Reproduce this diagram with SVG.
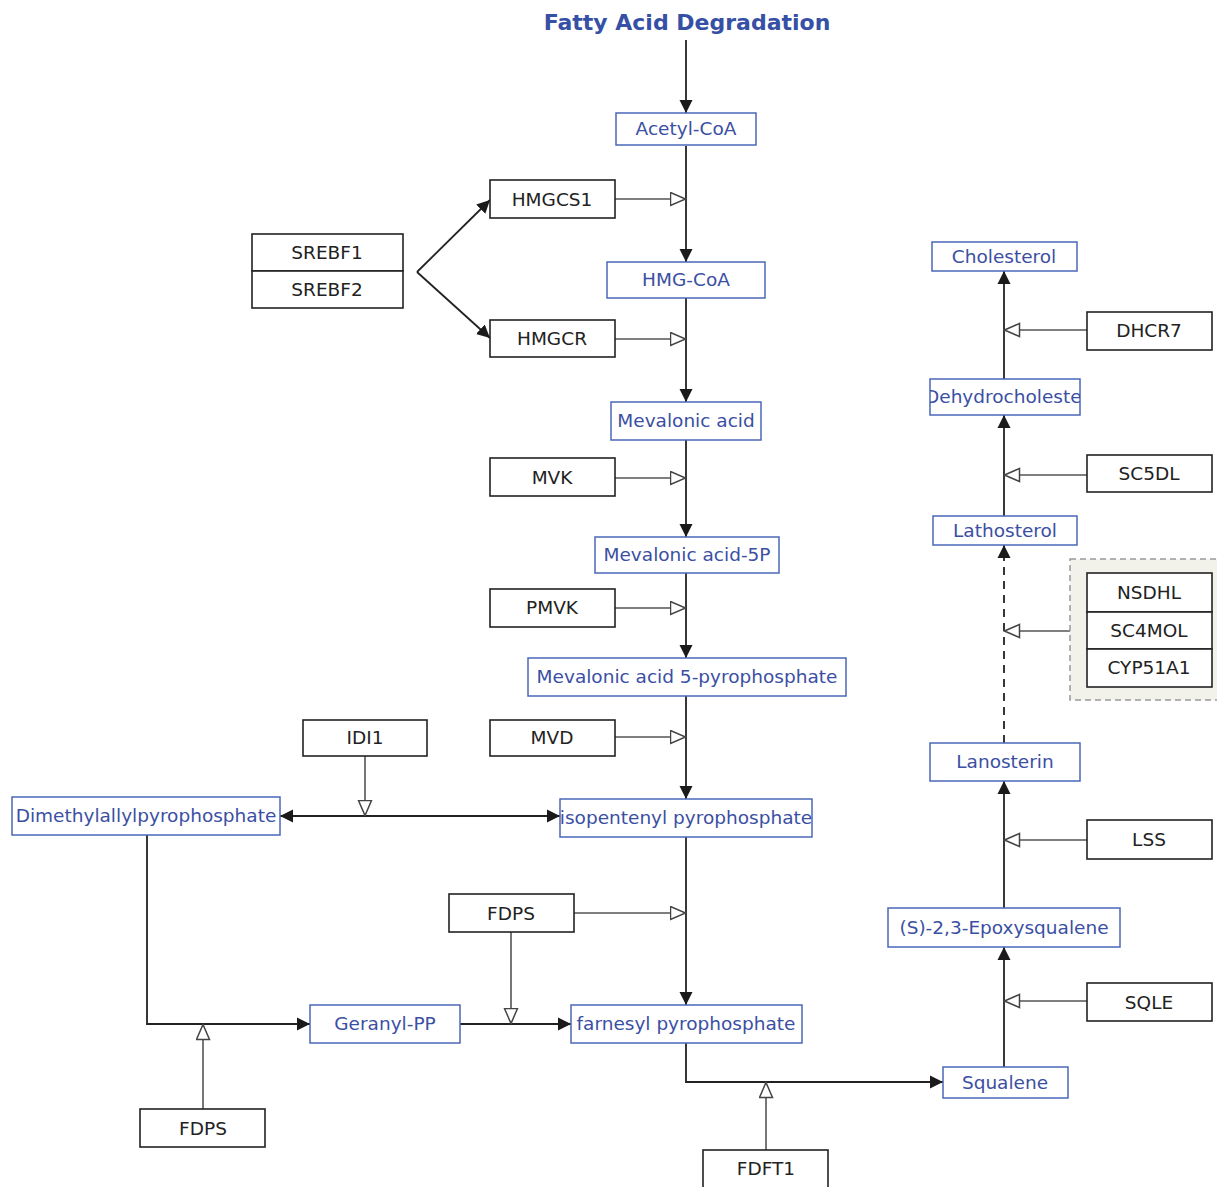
<svg xmlns="http://www.w3.org/2000/svg" width="1217" height="1187" viewBox="0 0 1217 1187">
<style>
text{font-family:"DejaVu Sans",Verdana,sans-serif;font-size:18.5px;text-anchor:middle}
.gene rect{fill:#fff;stroke:#222;stroke-width:1.6}
.gene text{fill:#222}
.met rect{fill:#fff;stroke:#4a68b8;stroke-width:1.5}
.met text{fill:#3b4fa3}
.title{font-weight:bold;font-size:22px;fill:#3550a5}
.conv{fill:none;stroke:#222;stroke-width:1.8}
.cat{fill:none;stroke:#555;stroke-width:1.6}
.dash{stroke-dasharray:8,6}
</style>
<defs>
<marker id="arr" markerUnits="userSpaceOnUse" markerWidth="14" markerHeight="14" refX="13" refY="7" orient="auto-start-reverse"><path d="M0,0.5 L13,7 L0,13.5 z" fill="#1a1a1a"/></marker>
<marker id="cat" markerUnits="userSpaceOnUse" markerWidth="18" markerHeight="16" refX="16.5" refY="7.5" orient="auto"><path d="M1,1 L16,7.5 L1,14 z" fill="#fff" stroke="#444" stroke-width="1.5"/></marker>
<clipPath id="clipDehy"><rect x="930" y="379" width="150" height="36"/></clipPath>
</defs>

<g id="connectors">
<path class="conv" d="M686,40 V113" marker-end="url(#arr)"/>
<path class="conv" d="M686,146 V262" marker-end="url(#arr)"/>
<path class="conv" d="M686,298 V402" marker-end="url(#arr)"/>
<path class="conv" d="M686,440 V537" marker-end="url(#arr)"/>
<path class="conv" d="M686,573 V658" marker-end="url(#arr)"/>
<path class="conv" d="M686,696 V799" marker-end="url(#arr)"/>
<path class="conv" d="M686,837 V1005" marker-end="url(#arr)"/>
<path class="cat" d="M615,199 H686" marker-end="url(#cat)"/>
<path class="cat" d="M615,339 H686" marker-end="url(#cat)"/>
<path class="cat" d="M615,478 H686" marker-end="url(#cat)"/>
<path class="cat" d="M615,608 H686" marker-end="url(#cat)"/>
<path class="cat" d="M615,737 H686" marker-end="url(#cat)"/>
<path class="cat" d="M574,913 H686" marker-end="url(#cat)"/>
<path class="conv" d="M417,272 L490,200" marker-end="url(#arr)"/>
<path class="conv" d="M417,272 L490,338" marker-end="url(#arr)"/>
<path class="conv" d="M280,816 H560" marker-start="url(#arr)" marker-end="url(#arr)"/>
<path class="cat" d="M365,756 V816" marker-end="url(#cat)"/>
<path class="conv" d="M147,835 V1024 H310" marker-end="url(#arr)"/>
<path class="cat" d="M203,1109 V1024" marker-end="url(#cat)"/>
<path class="conv" d="M460,1024 H571" marker-end="url(#arr)"/>
<path class="cat" d="M511,932 V1024" marker-end="url(#cat)"/>
<path class="conv" d="M686,1043 V1082 H943" marker-end="url(#arr)"/>
<path class="cat" d="M766,1150 V1082" marker-end="url(#cat)"/>
<path class="conv" d="M1004,1067 V947" marker-end="url(#arr)"/>
<path class="cat" d="M1087,1001 H1004" marker-end="url(#cat)"/>
<path class="conv" d="M1004,908 V781" marker-end="url(#arr)"/>
<path class="cat" d="M1087,840 H1004" marker-end="url(#cat)"/>
<path class="conv dash" d="M1004,743 V545" marker-end="url(#arr)"/>
<path class="cat" d="M1070,631 H1004" marker-end="url(#cat)"/>
<path class="conv" d="M1004,516 V415" marker-end="url(#arr)"/>
<path class="cat" d="M1087,475 H1004" marker-end="url(#cat)"/>
<path class="conv" d="M1004,379 V271" marker-end="url(#arr)"/>
<path class="cat" d="M1087,330 H1004" marker-end="url(#cat)"/>
</g>

<g id="title"><text class="title" x="687" y="30">Fatty Acid Degradation</text></g>

<g id="acetylcoa" class="met"><rect x="616" y="113" width="140" height="32"/><text x="686" y="135">Acetyl-CoA</text></g>
<g id="hmgcoa" class="met"><rect x="607" y="262" width="158" height="36"/><text x="686" y="286">HMG-CoA</text></g>
<g id="mevalonic" class="met"><rect x="611" y="402" width="150" height="38"/><text x="686" y="427">Mevalonic acid</text></g>
<g id="mevalonic5p" class="met"><rect x="595" y="537" width="184" height="36"/><text x="687" y="561">Mevalonic acid-5P</text></g>
<g id="mevalonic5pp" class="met"><rect x="528" y="658" width="318" height="38"/><text x="687" y="683">Mevalonic acid 5-pyrophosphate</text></g>
<g id="ipp" class="met"><rect x="560" y="799" width="252" height="38"/><text x="686" y="824">isopentenyl pyrophosphate</text></g>
<g id="dmapp" class="met"><rect x="12" y="797" width="268" height="38"/><text x="146" y="822">Dimethylallylpyrophosphate</text></g>
<g id="geranylpp" class="met"><rect x="310" y="1005" width="150" height="38"/><text x="385" y="1030">Geranyl-PP</text></g>
<g id="fpp" class="met"><rect x="571" y="1005" width="231" height="38"/><text x="686" y="1030">farnesyl pyrophosphate</text></g>
<g id="squalene" class="met"><rect x="943" y="1067" width="125" height="31"/><text x="1005" y="1089">Squalene</text></g>
<g id="epoxysqualene" class="met"><rect x="888" y="908" width="232" height="39"/><text x="1004" y="934">(S)-2,3-Epoxysqualene</text></g>
<g id="lanosterin" class="met"><rect x="930" y="743" width="150" height="38"/><text x="1005" y="768">Lanosterin</text></g>
<g id="lathosterol" class="met"><rect x="933" y="516" width="144" height="29"/><text x="1005" y="537">Lathosterol</text></g>
<g id="dehydrocholesterol" class="met"><rect x="930" y="379" width="150" height="36"/><text x="925" y="403" style="text-anchor:start" clip-path="url(#clipDehy)">Dehydrocholesterol</text></g>
<g id="cholesterol" class="met"><rect x="932" y="242" width="145" height="29"/><text x="1004" y="263">Cholesterol</text></g>

<g id="hmgcs1" class="gene"><rect x="490" y="180" width="125" height="38"/><text x="552" y="206">HMGCS1</text></g>
<g id="srebf" class="gene"><rect x="252" y="234" width="151" height="37"/><text x="327" y="259">SREBF1</text><rect x="252" y="271" width="151" height="37"/><text x="327" y="296">SREBF2</text></g>
<g id="hmgcr" class="gene"><rect x="490" y="320" width="125" height="37"/><text x="552" y="345">HMGCR</text></g>
<g id="mvk" class="gene"><rect x="490" y="458" width="125" height="38"/><text x="552" y="484">MVK</text></g>
<g id="pmvk" class="gene"><rect x="490" y="589" width="125" height="38"/><text x="552" y="614">PMVK</text></g>
<g id="mvd" class="gene"><rect x="490" y="720" width="125" height="36"/><text x="552" y="744">MVD</text></g>
<g id="idi1" class="gene"><rect x="303" y="720" width="124" height="36"/><text x="365" y="744">IDI1</text></g>
<g id="fdps1" class="gene"><rect x="449" y="894" width="125" height="38"/><text x="511" y="920">FDPS</text></g>
<g id="fdps2" class="gene"><rect x="140" y="1109" width="125" height="38"/><text x="203" y="1135">FDPS</text></g>
<g id="fdft1" class="gene"><rect x="703" y="1150" width="125" height="40"/><text x="766" y="1175">FDFT1</text></g>
<g id="sqle" class="gene"><rect x="1087" y="983" width="125" height="38"/><text x="1149" y="1009">SQLE</text></g>
<g id="lss" class="gene"><rect x="1087" y="820" width="125" height="39"/><text x="1149" y="846">LSS</text></g>
<g id="complex">
<rect x="1070" y="559" width="160" height="141" fill="#f3f2ea" stroke="#999" stroke-width="1.5" stroke-dasharray="6,4"/>
<g class="gene"><rect x="1087" y="573" width="125" height="39"/><text x="1149" y="599">NSDHL</text>
<rect x="1087" y="612" width="125" height="37"/><text x="1149" y="637">SC4MOL</text>
<rect x="1087" y="649" width="125" height="38"/><text x="1149" y="674">CYP51A1</text></g>
</g>
<g id="sc5dl" class="gene"><rect x="1087" y="455" width="125" height="37"/><text x="1149" y="480">SC5DL</text></g>
<g id="dhcr7" class="gene"><rect x="1087" y="312" width="125" height="38"/><text x="1149" y="337">DHCR7</text></g>
</svg>
